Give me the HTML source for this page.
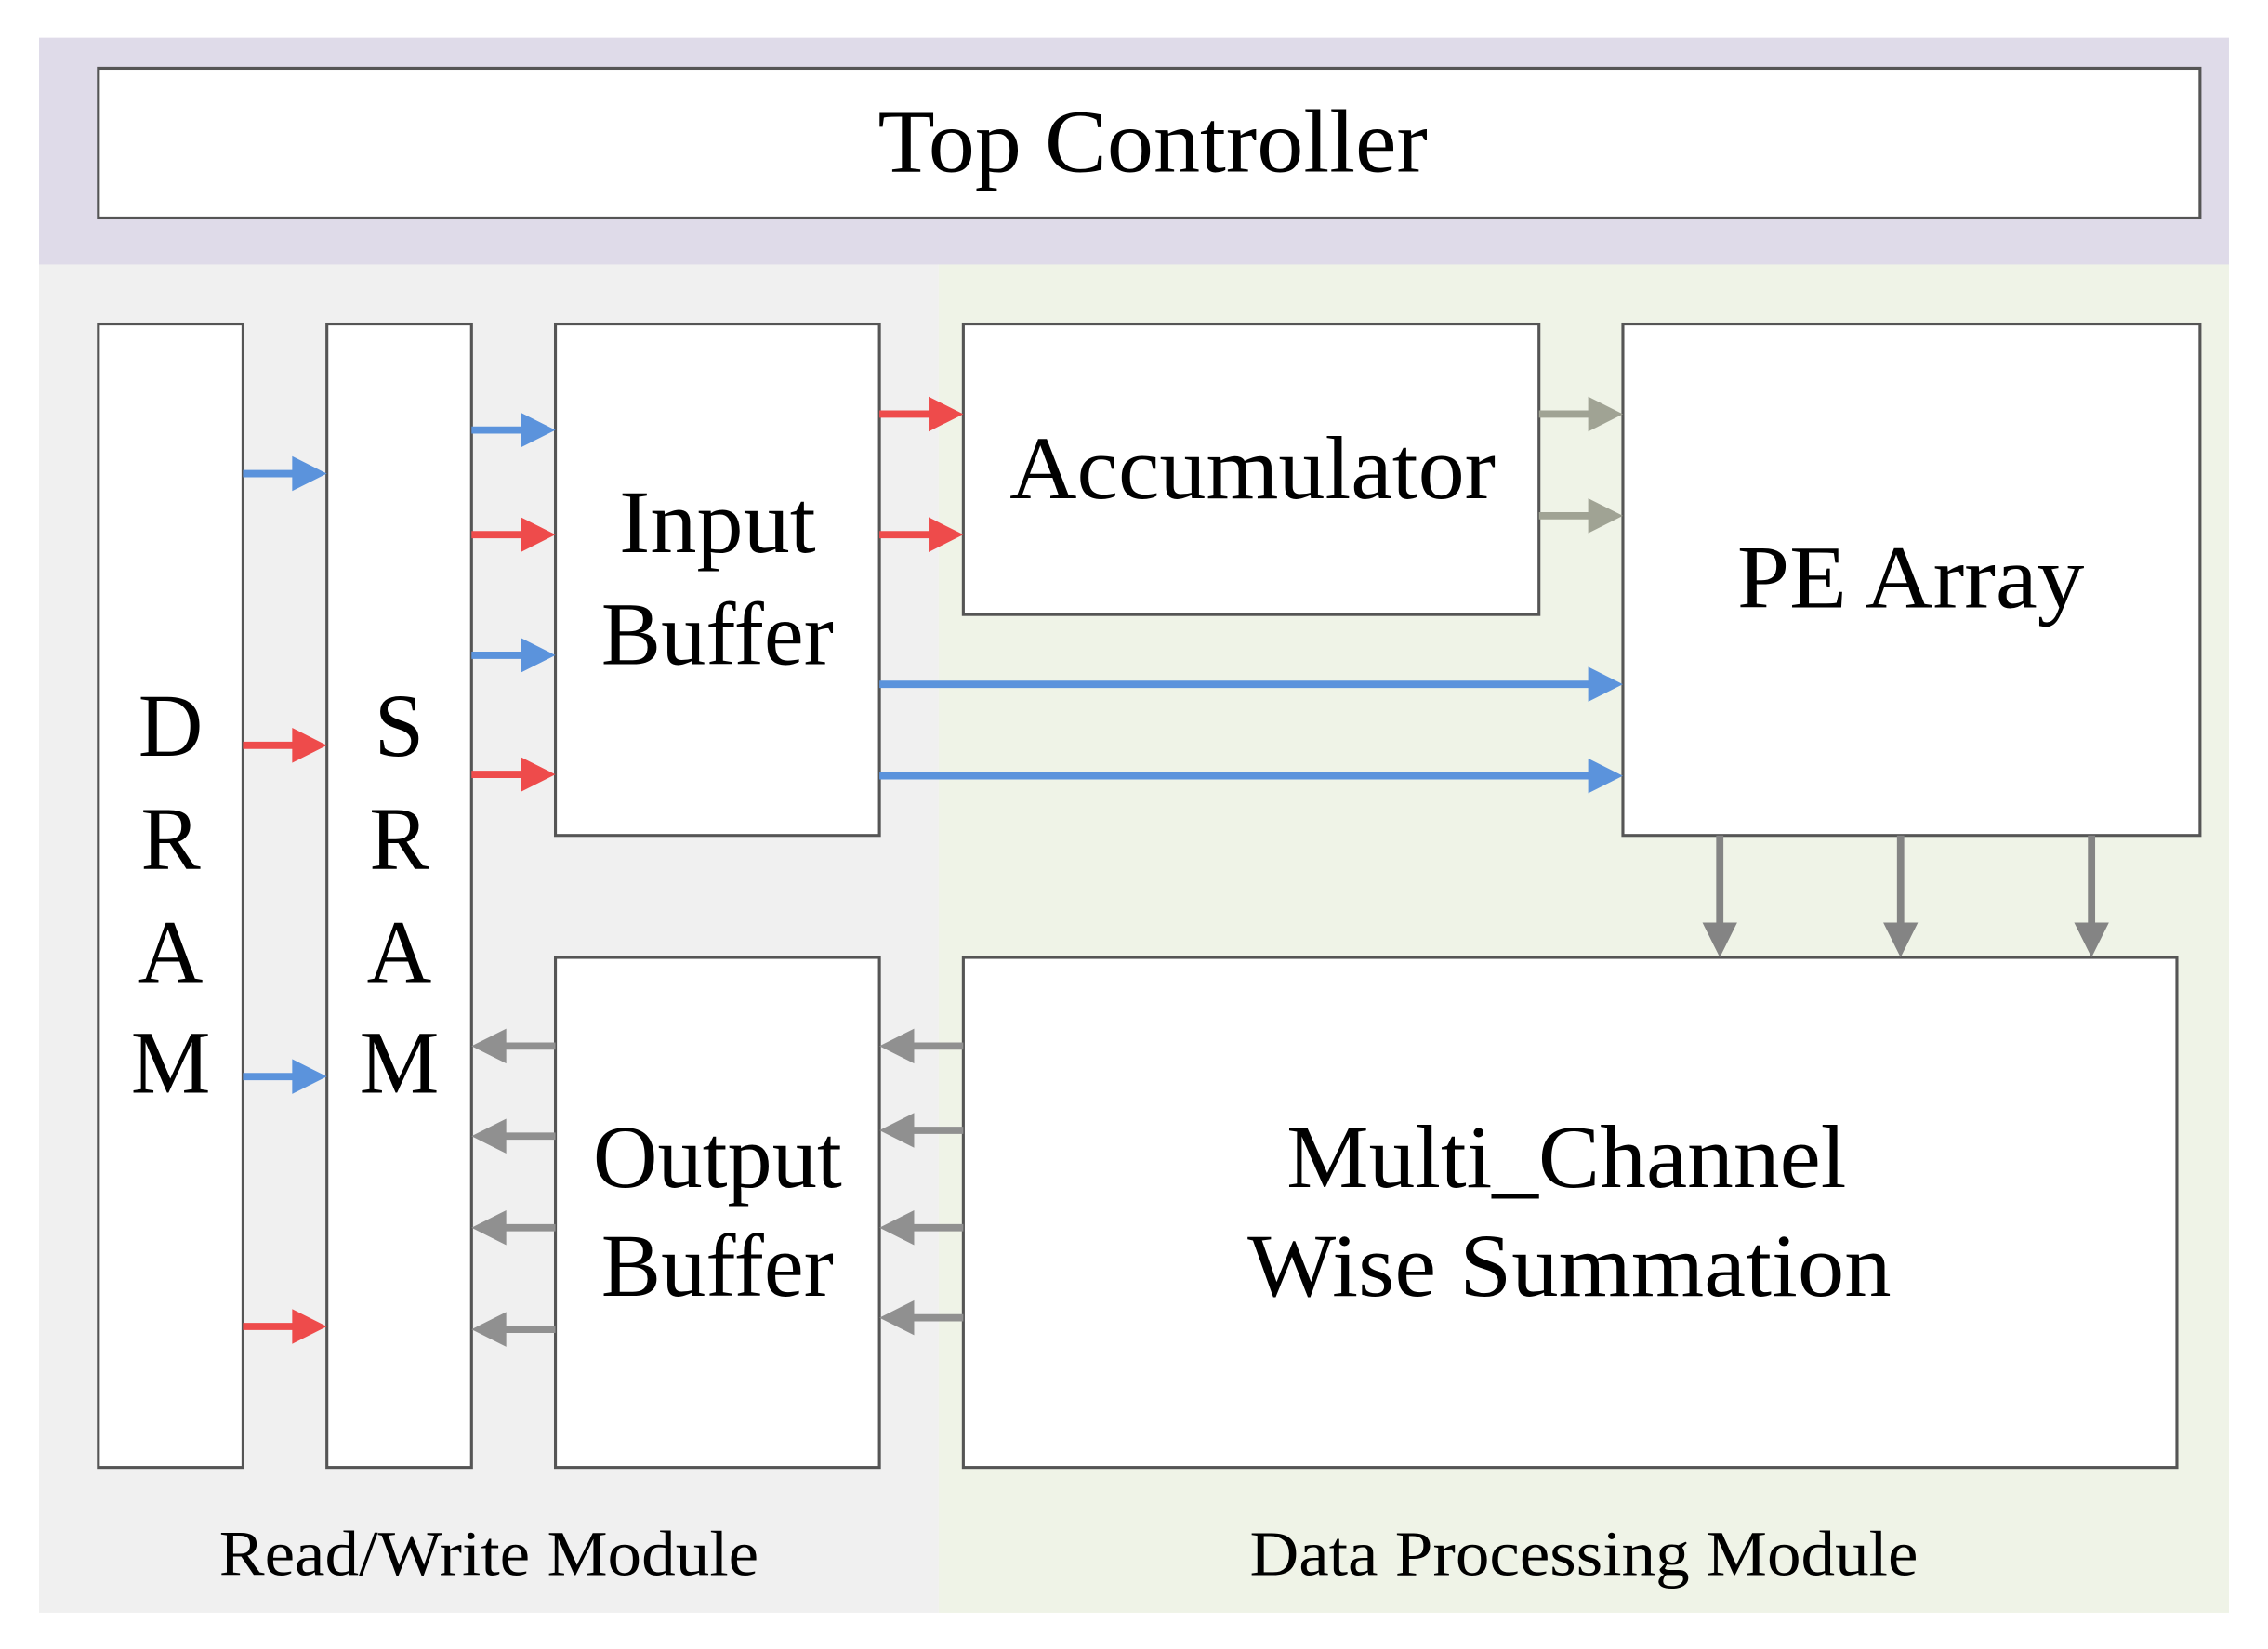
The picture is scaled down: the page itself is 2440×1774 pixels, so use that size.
<!DOCTYPE html>
<html><head><meta charset="utf-8"><style>
html,body{margin:0;padding:0;background:#fff;}
svg{display:block;}
text{font-family:"Liberation Serif",serif;fill:#000;}
</style></head><body>
<svg width="2440" height="1774" viewBox="0 0 1568 1135" preserveAspectRatio="none" xmlns="http://www.w3.org/2000/svg">
<rect x="0" y="0" width="1568" height="1135" fill="#fff"/>
<rect x="27" y="26" width="1514" height="156" fill="#dfdbe9"/>
<rect x="27" y="182" width="622" height="928" fill="#f0f0f0"/>
<rect x="649" y="182" width="892" height="928" fill="#eff3e7"/>
<g fill="#fff" stroke="#555" stroke-width="2">
<rect x="68" y="47" width="1453" height="103"/>
<rect x="68" y="223" width="100" height="787"/>
<rect x="226" y="223" width="100" height="787"/>
<rect x="384" y="223" width="224" height="352"/>
<rect x="666" y="223" width="398" height="200"/>
<rect x="1122" y="223" width="399" height="352"/>
<rect x="384" y="659" width="224" height="351"/>
<rect x="666" y="659" width="839" height="351"/>
</g>
<g stroke-width="5">
<g stroke="#5b93dc" fill="#5b93dc">
<line x1="168" y1="326" x2="204" y2="326"/><polygon points="202,314 226,326 202,338" stroke="none"/>
<line x1="168" y1="741" x2="204" y2="741"/><polygon points="202,729 226,741 202,753" stroke="none"/>
<line x1="326" y1="296" x2="362" y2="296"/><polygon points="360,284 384,296 360,308" stroke="none"/>
<line x1="326" y1="451" x2="362" y2="451"/><polygon points="360,439 384,451 360,463" stroke="none"/>
<line x1="608" y1="471" x2="1100" y2="471"/><polygon points="1098,459 1122,471 1098,483" stroke="none"/>
<line x1="608" y1="534" x2="1100" y2="534"/><polygon points="1098,522 1122,534 1098,546" stroke="none"/>
</g>
<g stroke="#ee4b4b" fill="#ee4b4b">
<line x1="168" y1="513" x2="204" y2="513"/><polygon points="202,501 226,513 202,525" stroke="none"/>
<line x1="168" y1="913" x2="204" y2="913"/><polygon points="202,901 226,913 202,925" stroke="none"/>
<line x1="326" y1="368" x2="362" y2="368"/><polygon points="360,356 384,368 360,380" stroke="none"/>
<line x1="326" y1="533" x2="362" y2="533"/><polygon points="360,521 384,533 360,545" stroke="none"/>
<line x1="608" y1="285" x2="644" y2="285"/><polygon points="642,273 666,285 642,297" stroke="none"/>
<line x1="608" y1="368" x2="644" y2="368"/><polygon points="642,356 666,368 642,380" stroke="none"/>
</g>
<g stroke="#a0a394" fill="#a0a394">
<line x1="1064" y1="285" x2="1100" y2="285"/><polygon points="1098,273 1122,285 1098,297" stroke="none"/>
<line x1="1064" y1="355" x2="1100" y2="355"/><polygon points="1098,343 1122,355 1098,367" stroke="none"/>
</g>
<g stroke="#909090" fill="#909090">
<line x1="666" y1="720" x2="630" y2="720"/><polygon points="632,708 608,720 632,732" stroke="none"/>
<line x1="666" y1="778" x2="630" y2="778"/><polygon points="632,766 608,778 632,790" stroke="none"/>
<line x1="666" y1="845" x2="630" y2="845"/><polygon points="632,833 608,845 632,857" stroke="none"/>
<line x1="666" y1="907" x2="630" y2="907"/><polygon points="632,895 608,907 632,919" stroke="none"/>
<line x1="384" y1="720" x2="348" y2="720"/><polygon points="350,708 326,720 350,732" stroke="none"/>
<line x1="384" y1="782" x2="348" y2="782"/><polygon points="350,770 326,782 350,794" stroke="none"/>
<line x1="384" y1="845" x2="348" y2="845"/><polygon points="350,833 326,845 350,857" stroke="none"/>
<line x1="384" y1="915" x2="348" y2="915"/><polygon points="350,903 326,915 350,927" stroke="none"/>
</g>
<g stroke="#848484" fill="#848484">
<line x1="1189" y1="575" x2="1189" y2="637"/><polygon points="1177,635 1189,659 1201,635" stroke="none"/>
<line x1="1314" y1="575" x2="1314" y2="637"/><polygon points="1302,635 1314,659 1326,635" stroke="none"/>
<line x1="1446" y1="575" x2="1446" y2="637"/><polygon points="1434,635 1446,659 1458,635" stroke="none"/>
</g>
</g>
<g font-size="62" text-anchor="middle">
<text x="797" y="118" textLength="380" lengthAdjust="spacingAndGlyphs">Top Controller</text>
<text x="496" y="380" textLength="136" lengthAdjust="spacingAndGlyphs">Input</text>
<text x="496" y="457">Buffer</text>
<text x="866" y="343" textLength="336" lengthAdjust="spacingAndGlyphs">Accumulator</text>
<text x="1321" y="418" textLength="240" lengthAdjust="spacingAndGlyphs">PE Array</text>
<text x="496" y="817">Output</text>
<text x="496" y="892">Buffer</text>
<text x="1083" y="817" textLength="387" lengthAdjust="spacingAndGlyphs">Multi_Channel</text>
<text x="1085" y="892" textLength="445" lengthAdjust="spacingAndGlyphs">Wise Summation</text>
<text x="118" y="520">D</text><text x="118" y="598">R</text><text x="118" y="676">A</text><text x="118" y="752">M</text>
<text x="276" y="520">S</text><text x="276" y="598">R</text><text x="276" y="676">A</text><text x="276" y="752">M</text>
</g>
<g font-size="44" text-anchor="middle">
<text x="338" y="1084" textLength="373" lengthAdjust="spacingAndGlyphs">Read/Write Module</text>
<text x="1095" y="1084" textLength="462" lengthAdjust="spacingAndGlyphs">Data Processing Module</text>
</g>
</svg>
</body></html>
